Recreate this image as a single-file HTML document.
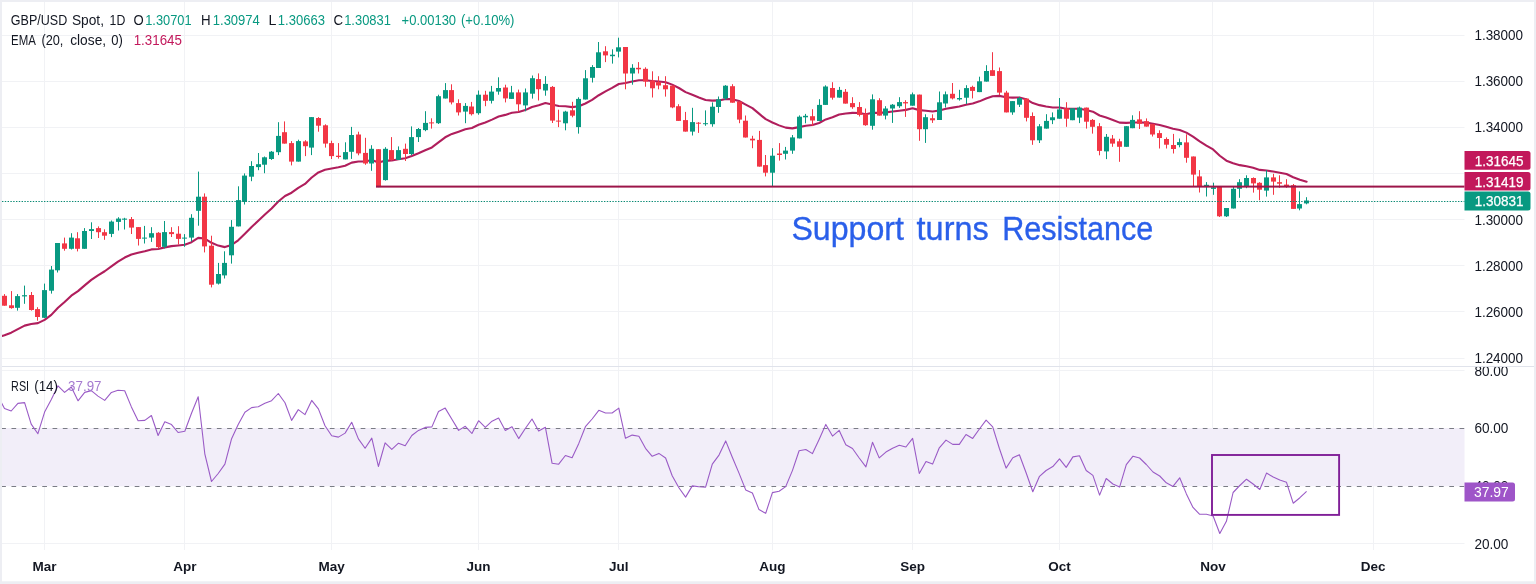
<!DOCTYPE html>
<html><head><meta charset="utf-8"><title>GBP/USD</title>
<style>
html,body{margin:0;padding:0;background:#fff;}
body{width:1536px;height:584px;overflow:hidden;}
svg{display:block;font-family:"Liberation Sans", sans-serif;will-change:transform;}
</style></head>
<body>
<svg width="1536" height="584" viewBox="0 0 1536 584">
<defs><clipPath id="rsiclip"><rect x="0" y="367" width="1536" height="217"/></clipPath></defs>
<rect width="1536" height="584" fill="#FFFFFF"/>
<rect x="44" y="2" width="1" height="364" fill="#F1F2F5"/>
<rect x="44" y="367" width="1" height="183" fill="#F1F2F5"/>
<rect x="184" y="2" width="1" height="364" fill="#F1F2F5"/>
<rect x="184" y="367" width="1" height="183" fill="#F1F2F5"/>
<rect x="331" y="2" width="1" height="364" fill="#F1F2F5"/>
<rect x="331" y="367" width="1" height="183" fill="#F1F2F5"/>
<rect x="478" y="2" width="1" height="364" fill="#F1F2F5"/>
<rect x="478" y="367" width="1" height="183" fill="#F1F2F5"/>
<rect x="618" y="2" width="1" height="364" fill="#F1F2F5"/>
<rect x="618" y="367" width="1" height="183" fill="#F1F2F5"/>
<rect x="772" y="2" width="1" height="364" fill="#F1F2F5"/>
<rect x="772" y="367" width="1" height="183" fill="#F1F2F5"/>
<rect x="912" y="2" width="1" height="364" fill="#F1F2F5"/>
<rect x="912" y="367" width="1" height="183" fill="#F1F2F5"/>
<rect x="1059" y="2" width="1" height="364" fill="#F1F2F5"/>
<rect x="1059" y="367" width="1" height="183" fill="#F1F2F5"/>
<rect x="1212" y="2" width="1" height="364" fill="#F1F2F5"/>
<rect x="1212" y="367" width="1" height="183" fill="#F1F2F5"/>
<rect x="1373" y="2" width="1" height="364" fill="#F1F2F5"/>
<rect x="1373" y="367" width="1" height="183" fill="#F1F2F5"/>
<rect x="2" y="35" width="1462.5" height="1" fill="#F1F2F5"/>
<rect x="2" y="81" width="1462.5" height="1" fill="#F1F2F5"/>
<rect x="2" y="127" width="1462.5" height="1" fill="#F1F2F5"/>
<rect x="2" y="173" width="1462.5" height="1" fill="#F1F2F5"/>
<rect x="2" y="219" width="1462.5" height="1" fill="#F1F2F5"/>
<rect x="2" y="265" width="1462.5" height="1" fill="#F1F2F5"/>
<rect x="2" y="311" width="1462.5" height="1" fill="#F1F2F5"/>
<rect x="2" y="358" width="1462.5" height="1" fill="#F1F2F5"/>
<rect x="2" y="370" width="1462.5" height="1" fill="#F1F2F5"/>
<rect x="2" y="543" width="1462.5" height="1" fill="#F1F2F5"/>
<rect x="2" y="428.0" width="1462.5" height="58.30000000000001" fill="#F2EEF9"/>
<line x1="1.2" y1="428.5" x2="1464.5" y2="428.5" stroke="#7A7C85" stroke-width="1" stroke-dasharray="4.7 5.57"/>
<line x1="1.2" y1="486.5" x2="1464.5" y2="486.5" stroke="#7A7C85" stroke-width="1" stroke-dasharray="4.7 5.57"/>
<polyline points="-2.1 337.30 4.5 335.29 11.2 332.66 17.9 329.11 24.6 325.64 31.2 324.00 37.9 323.09 44.6 319.87 51.3 314.89 58.0 307.82 64.6 301.98 71.3 295.72 78.0 291.15 84.7 285.39 91.3 279.92 98.0 275.28 104.7 271.24 111.4 266.37 118.0 261.69 124.7 257.56 131.4 254.44 138.1 252.75 144.8 251.21 151.4 249.39 158.1 249.05 164.8 247.39 171.5 246.15 178.1 245.47 184.8 244.69 191.5 242.20 198.2 237.85 204.8 238.55 211.5 242.78 218.2 245.60 224.9 247.12 231.6 244.90 238.2 240.28 244.9 233.73 251.6 226.98 258.3 220.81 264.9 214.51 271.6 208.44 278.3 201.49 285.0 196.00 291.6 192.70 298.3 187.83 305.0 183.91 311.7 177.51 318.4 172.42 325.0 169.75 331.7 168.43 338.4 167.25 345.1 165.78 351.7 162.61 358.4 161.52 365.1 161.47 371.8 160.09 378.4 162.47 385.1 160.83 391.8 160.42 398.5 159.23 405.2 158.18 411.8 155.94 418.5 153.18 425.2 150.21 431.9 147.41 438.5 142.43 445.2 137.30 451.9 133.88 458.6 131.68 465.3 129.32 471.9 128.01 478.6 124.81 485.3 122.48 492.0 119.59 498.6 116.53 505.3 114.88 512.0 112.72 518.7 111.99 525.3 110.10 532.0 106.93 538.7 105.20 545.4 103.05 552.1 104.52 558.7 105.98 565.4 106.24 572.1 107.09 578.8 106.24 585.4 103.47 592.1 99.91 598.8 95.22 605.5 91.35 612.1 87.84 618.8 84.00 625.5 83.05 632.2 81.49 638.9 80.21 645.5 80.26 652.2 81.01 658.9 81.48 665.6 82.23 672.2 84.63 678.9 88.02 685.6 92.10 692.3 94.83 698.9 97.48 705.6 99.93 712.3 100.59 719.0 100.42 725.7 98.97 732.3 99.16 739.0 101.05 745.7 104.57 752.4 108.09 759.0 113.64 765.7 119.17 772.4 122.44 779.1 125.37 785.7 127.62 792.4 128.39 799.1 127.10 805.8 125.75 812.5 125.02 819.1 122.99 825.8 119.42 832.5 117.33 839.2 114.57 845.8 113.50 852.5 112.92 859.2 113.06 865.9 114.21 872.5 112.73 879.2 112.88 885.9 112.40 892.6 111.55 899.3 110.68 905.9 109.86 912.6 108.25 919.3 110.13 926.0 110.69 932.6 111.49 939.3 110.54 946.0 108.82 952.7 107.64 959.3 106.56 966.0 104.73 972.7 103.46 979.4 101.34 986.1 98.44 992.7 96.28 999.4 95.90 1006.1 97.30 1012.8 97.58 1019.4 97.51 1026.1 99.28 1032.8 103.06 1039.5 105.14 1046.1 106.55 1052.8 107.48 1059.5 107.55 1066.2 108.74 1072.9 108.79 1079.5 108.74 1086.2 110.07 1092.9 111.66 1099.6 115.48 1106.2 117.56 1112.9 120.04 1119.6 122.63 1126.3 122.86 1133.0 122.46 1139.6 122.44 1146.3 122.64 1153.0 123.72 1159.7 124.99 1166.3 126.80 1173.0 128.82 1179.7 129.96 1186.4 132.63 1193.0 136.64 1199.7 141.33 1206.4 145.54 1213.1 149.43 1219.8 155.77 1226.4 160.70 1233.1 163.34 1239.8 165.15 1246.5 166.29 1253.1 167.81 1259.8 169.90 1266.5 170.55 1273.2 171.57 1279.8 172.69 1286.5 173.95 1293.2 177.24 1299.9 179.73 1306.6 181.66" fill="none" stroke="#B01E5C" stroke-width="2.1" stroke-linejoin="round" stroke-linecap="round"/>
<rect x="4" y="294.1" width="1" height="11.6" fill="#F23645"/>
<rect x="2" y="295.8" width="5" height="9.9" fill="#F23645"/>
<rect x="11" y="291.1" width="1" height="17.6" fill="#F23645"/>
<rect x="9" y="305.3" width="5" height="2.8" fill="#F23645"/>
<rect x="17" y="294.1" width="1" height="16.5" fill="#089981"/>
<rect x="15" y="296.1" width="5" height="11.7" fill="#089981"/>
<rect x="24" y="285.6" width="1" height="18.2" fill="#089981"/>
<rect x="22" y="295.2" width="5" height="1.2" fill="#089981"/>
<rect x="31" y="292.0" width="1" height="18.6" fill="#F23645"/>
<rect x="29" y="295.0" width="5" height="15.0" fill="#F23645"/>
<rect x="37" y="307.2" width="1" height="13.5" fill="#F23645"/>
<rect x="35" y="309.1" width="5" height="7.9" fill="#F23645"/>
<rect x="44" y="283.6" width="1" height="34.4" fill="#089981"/>
<rect x="42" y="290.1" width="5" height="27.7" fill="#089981"/>
<rect x="51" y="266.0" width="1" height="27.6" fill="#089981"/>
<rect x="49" y="269.6" width="5" height="21.1" fill="#089981"/>
<rect x="57" y="243.0" width="1" height="29.5" fill="#089981"/>
<rect x="55" y="243.0" width="5" height="27.3" fill="#089981"/>
<rect x="64" y="237.6" width="1" height="13.1" fill="#F23645"/>
<rect x="62" y="243.4" width="5" height="5.4" fill="#F23645"/>
<rect x="71" y="233.2" width="1" height="16.3" fill="#089981"/>
<rect x="69" y="237.6" width="5" height="11.2" fill="#089981"/>
<rect x="77" y="232.2" width="1" height="19.2" fill="#F23645"/>
<rect x="75" y="238.3" width="5" height="10.5" fill="#F23645"/>
<rect x="84" y="228.1" width="1" height="20.7" fill="#089981"/>
<rect x="82" y="231.0" width="5" height="17.8" fill="#089981"/>
<rect x="91" y="222.3" width="1" height="16.7" fill="#089981"/>
<rect x="89" y="229.1" width="5" height="1.9" fill="#089981"/>
<rect x="98" y="226.4" width="1" height="11.6" fill="#F23645"/>
<rect x="96" y="228.1" width="5" height="4.1" fill="#F23645"/>
<rect x="104" y="229.3" width="1" height="10.5" fill="#F23645"/>
<rect x="102" y="232.2" width="5" height="3.5" fill="#F23645"/>
<rect x="111" y="220.5" width="1" height="16.6" fill="#089981"/>
<rect x="109" y="221.6" width="5" height="12.3" fill="#089981"/>
<rect x="118" y="217.2" width="1" height="13.3" fill="#089981"/>
<rect x="116" y="218.6" width="5" height="3.3" fill="#089981"/>
<rect x="124" y="217.8" width="1" height="11.7" fill="#089981"/>
<rect x="122" y="218.6" width="5" height="1.1" fill="#089981"/>
<rect x="131" y="217.0" width="1" height="17.0" fill="#F23645"/>
<rect x="129" y="219.1" width="5" height="8.5" fill="#F23645"/>
<rect x="138" y="227.1" width="1" height="18.4" fill="#F23645"/>
<rect x="136" y="227.1" width="5" height="11.8" fill="#F23645"/>
<rect x="144" y="225.9" width="1" height="17.6" fill="#089981"/>
<rect x="142" y="237.6" width="5" height="1.0" fill="#089981"/>
<rect x="151" y="227.2" width="1" height="14.7" fill="#089981"/>
<rect x="149" y="233.2" width="5" height="4.4" fill="#089981"/>
<rect x="158" y="232.1" width="1" height="16.6" fill="#F23645"/>
<rect x="156" y="232.8" width="5" height="14.3" fill="#F23645"/>
<rect x="164" y="221.0" width="1" height="27.4" fill="#089981"/>
<rect x="162" y="232.1" width="5" height="14.7" fill="#089981"/>
<rect x="171" y="227.2" width="1" height="9.8" fill="#F23645"/>
<rect x="169" y="232.1" width="5" height="2.0" fill="#F23645"/>
<rect x="178" y="226.2" width="1" height="18.4" fill="#F23645"/>
<rect x="176" y="233.7" width="5" height="5.2" fill="#F23645"/>
<rect x="184" y="234.1" width="1" height="12.7" fill="#089981"/>
<rect x="182" y="237.6" width="5" height="1.0" fill="#089981"/>
<rect x="191" y="214.2" width="1" height="27.2" fill="#089981"/>
<rect x="189" y="217.8" width="5" height="19.8" fill="#089981"/>
<rect x="198" y="171.6" width="1" height="54.1" fill="#089981"/>
<rect x="196" y="196.7" width="5" height="14.1" fill="#089981"/>
<rect x="204" y="193.4" width="1" height="59.0" fill="#F23645"/>
<rect x="202" y="196.7" width="5" height="49.7" fill="#F23645"/>
<rect x="211" y="235.7" width="1" height="51.7" fill="#F23645"/>
<rect x="209" y="245.7" width="5" height="39.0" fill="#F23645"/>
<rect x="218" y="262.9" width="1" height="21.6" fill="#089981"/>
<rect x="216" y="274.0" width="5" height="9.6" fill="#089981"/>
<rect x="224" y="251.3" width="1" height="27.2" fill="#089981"/>
<rect x="222" y="262.9" width="5" height="12.5" fill="#089981"/>
<rect x="231" y="220.1" width="1" height="43.5" fill="#089981"/>
<rect x="229" y="226.8" width="5" height="28.5" fill="#089981"/>
<rect x="238" y="186.3" width="1" height="40.1" fill="#089981"/>
<rect x="236" y="200.1" width="5" height="26.3" fill="#089981"/>
<rect x="244" y="173.4" width="1" height="31.1" fill="#089981"/>
<rect x="242" y="175.6" width="5" height="26.3" fill="#089981"/>
<rect x="251" y="161.2" width="1" height="20.0" fill="#089981"/>
<rect x="249" y="166.0" width="5" height="10.7" fill="#089981"/>
<rect x="258" y="153.0" width="1" height="17.2" fill="#089981"/>
<rect x="256" y="164.2" width="5" height="2.9" fill="#089981"/>
<rect x="264" y="156.5" width="1" height="16.7" fill="#089981"/>
<rect x="262" y="157.3" width="5" height="7.4" fill="#089981"/>
<rect x="271" y="151.0" width="1" height="8.9" fill="#089981"/>
<rect x="269" y="151.7" width="5" height="7.3" fill="#089981"/>
<rect x="278" y="122.2" width="1" height="32.9" fill="#089981"/>
<rect x="276" y="135.9" width="5" height="16.3" fill="#089981"/>
<rect x="284" y="121.4" width="1" height="22.2" fill="#F23645"/>
<rect x="282" y="132.2" width="5" height="11.4" fill="#F23645"/>
<rect x="291" y="141.1" width="1" height="24.3" fill="#F23645"/>
<rect x="289" y="143.1" width="5" height="18.5" fill="#F23645"/>
<rect x="298" y="139.7" width="1" height="21.9" fill="#089981"/>
<rect x="296" y="141.1" width="5" height="20.5" fill="#089981"/>
<rect x="305" y="140.2" width="1" height="15.9" fill="#F23645"/>
<rect x="303" y="141.4" width="5" height="4.8" fill="#F23645"/>
<rect x="311" y="117.1" width="1" height="38.0" fill="#089981"/>
<rect x="309" y="117.1" width="5" height="30.5" fill="#089981"/>
<rect x="318" y="117.1" width="1" height="14.6" fill="#F23645"/>
<rect x="316" y="118.0" width="5" height="7.7" fill="#F23645"/>
<rect x="325" y="124.3" width="1" height="23.3" fill="#F23645"/>
<rect x="323" y="125.3" width="5" height="18.3" fill="#F23645"/>
<rect x="331" y="140.7" width="1" height="18.3" fill="#F23645"/>
<rect x="329" y="143.1" width="5" height="13.0" fill="#F23645"/>
<rect x="338" y="143.1" width="1" height="15.5" fill="#F23645"/>
<rect x="336" y="155.7" width="5" height="1.3" fill="#F23645"/>
<rect x="345" y="142.3" width="1" height="17.1" fill="#089981"/>
<rect x="343" y="152.1" width="5" height="7.3" fill="#089981"/>
<rect x="351" y="126.9" width="1" height="32.0" fill="#089981"/>
<rect x="349" y="135.0" width="5" height="16.8" fill="#089981"/>
<rect x="358" y="131.7" width="1" height="23.6" fill="#F23645"/>
<rect x="356" y="134.5" width="5" height="18.9" fill="#F23645"/>
<rect x="365" y="137.8" width="1" height="27.0" fill="#F23645"/>
<rect x="363" y="152.9" width="5" height="10.6" fill="#F23645"/>
<rect x="371" y="145.2" width="1" height="25.6" fill="#089981"/>
<rect x="369" y="148.8" width="5" height="14.7" fill="#089981"/>
<rect x="378" y="149.2" width="1" height="37.9" fill="#F23645"/>
<rect x="376" y="149.2" width="5" height="37.9" fill="#F23645"/>
<rect x="385" y="147.2" width="1" height="33.4" fill="#089981"/>
<rect x="383" y="148.8" width="5" height="31.3" fill="#089981"/>
<rect x="391" y="137.1" width="1" height="23.4" fill="#F23645"/>
<rect x="389" y="150.1" width="5" height="9.8" fill="#F23645"/>
<rect x="398" y="146.4" width="1" height="13.5" fill="#089981"/>
<rect x="396" y="150.1" width="5" height="9.8" fill="#089981"/>
<rect x="405" y="143.6" width="1" height="17.4" fill="#F23645"/>
<rect x="403" y="148.8" width="5" height="5.2" fill="#F23645"/>
<rect x="411" y="126.4" width="1" height="28.9" fill="#089981"/>
<rect x="409" y="137.1" width="5" height="16.9" fill="#089981"/>
<rect x="418" y="128.0" width="1" height="14.0" fill="#089981"/>
<rect x="416" y="129.0" width="5" height="8.1" fill="#089981"/>
<rect x="425" y="111.2" width="1" height="20.0" fill="#089981"/>
<rect x="423" y="122.9" width="5" height="7.2" fill="#089981"/>
<rect x="431" y="118.3" width="1" height="10.3" fill="#F23645"/>
<rect x="429" y="122.4" width="5" height="1.0" fill="#F23645"/>
<rect x="438" y="94.7" width="1" height="29.3" fill="#089981"/>
<rect x="436" y="96.2" width="5" height="27.0" fill="#089981"/>
<rect x="445" y="83.1" width="1" height="15.4" fill="#089981"/>
<rect x="443" y="90.1" width="5" height="8.4" fill="#089981"/>
<rect x="451" y="84.3" width="1" height="20.1" fill="#F23645"/>
<rect x="449" y="90.1" width="5" height="12.3" fill="#F23645"/>
<rect x="458" y="99.3" width="1" height="16.2" fill="#F23645"/>
<rect x="456" y="103.1" width="5" height="9.3" fill="#F23645"/>
<rect x="465" y="103.1" width="1" height="20.1" fill="#089981"/>
<rect x="463" y="105.9" width="5" height="5.7" fill="#089981"/>
<rect x="471" y="101.9" width="1" height="13.6" fill="#F23645"/>
<rect x="469" y="106.5" width="5" height="7.7" fill="#F23645"/>
<rect x="478" y="90.5" width="1" height="24.2" fill="#089981"/>
<rect x="476" y="94.7" width="5" height="18.5" fill="#089981"/>
<rect x="485" y="90.8" width="1" height="15.4" fill="#F23645"/>
<rect x="483" y="94.7" width="5" height="6.1" fill="#F23645"/>
<rect x="491" y="85.9" width="1" height="17.6" fill="#089981"/>
<rect x="489" y="91.6" width="5" height="9.2" fill="#089981"/>
<rect x="498" y="77.3" width="1" height="17.4" fill="#089981"/>
<rect x="496" y="88.0" width="5" height="3.6" fill="#089981"/>
<rect x="505" y="84.7" width="1" height="17.7" fill="#F23645"/>
<rect x="503" y="87.5" width="5" height="10.9" fill="#F23645"/>
<rect x="511" y="85.9" width="1" height="13.0" fill="#089981"/>
<rect x="509" y="92.4" width="5" height="6.5" fill="#089981"/>
<rect x="518" y="89.6" width="1" height="22.0" fill="#F23645"/>
<rect x="516" y="92.4" width="5" height="11.9" fill="#F23645"/>
<rect x="525" y="88.5" width="1" height="22.8" fill="#089981"/>
<rect x="523" y="92.4" width="5" height="13.0" fill="#089981"/>
<rect x="532" y="75.5" width="1" height="23.1" fill="#089981"/>
<rect x="530" y="78.2" width="5" height="15.5" fill="#089981"/>
<rect x="538" y="73.4" width="1" height="27.1" fill="#F23645"/>
<rect x="536" y="79.1" width="5" height="10.1" fill="#F23645"/>
<rect x="545" y="76.1" width="1" height="19.6" fill="#089981"/>
<rect x="543" y="83.9" width="5" height="6.6" fill="#089981"/>
<rect x="552" y="86.0" width="1" height="37.0" fill="#F23645"/>
<rect x="550" y="86.9" width="5" height="33.7" fill="#F23645"/>
<rect x="558" y="109.7" width="1" height="17.4" fill="#F23645"/>
<rect x="556" y="120.6" width="5" height="1.0" fill="#F23645"/>
<rect x="565" y="110.8" width="1" height="19.5" fill="#089981"/>
<rect x="563" y="111.6" width="5" height="11.7" fill="#089981"/>
<rect x="572" y="101.8" width="1" height="15.5" fill="#F23645"/>
<rect x="570" y="110.3" width="5" height="5.4" fill="#F23645"/>
<rect x="578" y="97.3" width="1" height="36.3" fill="#089981"/>
<rect x="576" y="98.9" width="5" height="28.2" fill="#089981"/>
<rect x="585" y="70.1" width="1" height="29.4" fill="#089981"/>
<rect x="583" y="78.3" width="5" height="21.2" fill="#089981"/>
<rect x="592" y="65.1" width="1" height="17.4" fill="#089981"/>
<rect x="590" y="67.0" width="5" height="10.8" fill="#089981"/>
<rect x="598" y="42.0" width="1" height="26.0" fill="#089981"/>
<rect x="596" y="52.3" width="5" height="15.7" fill="#089981"/>
<rect x="605" y="46.2" width="1" height="15.9" fill="#F23645"/>
<rect x="603" y="51.3" width="5" height="4.1" fill="#F23645"/>
<rect x="612" y="49.3" width="1" height="14.3" fill="#089981"/>
<rect x="610" y="54.7" width="5" height="1.5" fill="#089981"/>
<rect x="618" y="37.7" width="1" height="19.7" fill="#089981"/>
<rect x="616" y="47.3" width="5" height="4.3" fill="#089981"/>
<rect x="625" y="47.0" width="1" height="42.3" fill="#F23645"/>
<rect x="623" y="47.0" width="5" height="26.5" fill="#F23645"/>
<rect x="632" y="64.2" width="1" height="20.5" fill="#089981"/>
<rect x="630" y="67.8" width="5" height="5.7" fill="#089981"/>
<rect x="638" y="62.1" width="1" height="11.4" fill="#F23645"/>
<rect x="636" y="67.8" width="5" height="1.5" fill="#F23645"/>
<rect x="645" y="67.3" width="1" height="19.4" fill="#F23645"/>
<rect x="643" y="68.8" width="5" height="12.8" fill="#F23645"/>
<rect x="652" y="71.3" width="1" height="26.2" fill="#F23645"/>
<rect x="650" y="80.5" width="5" height="7.8" fill="#F23645"/>
<rect x="658" y="76.2" width="1" height="13.1" fill="#F23645"/>
<rect x="656" y="82.1" width="5" height="3.4" fill="#F23645"/>
<rect x="665" y="76.2" width="1" height="20.4" fill="#F23645"/>
<rect x="663" y="85.2" width="5" height="4.1" fill="#F23645"/>
<rect x="672" y="85.6" width="1" height="22.6" fill="#F23645"/>
<rect x="670" y="85.6" width="5" height="21.8" fill="#F23645"/>
<rect x="678" y="104.2" width="1" height="16.7" fill="#F23645"/>
<rect x="676" y="106.2" width="5" height="14.7" fill="#F23645"/>
<rect x="685" y="111.9" width="1" height="19.7" fill="#F23645"/>
<rect x="683" y="120.1" width="5" height="11.5" fill="#F23645"/>
<rect x="692" y="107.8" width="1" height="27.7" fill="#089981"/>
<rect x="690" y="122.1" width="5" height="9.5" fill="#089981"/>
<rect x="698" y="122.1" width="1" height="10.8" fill="#F23645"/>
<rect x="696" y="122.7" width="5" height="1.0" fill="#F23645"/>
<rect x="705" y="110.4" width="1" height="15.4" fill="#089981"/>
<rect x="703" y="123.2" width="5" height="1.0" fill="#089981"/>
<rect x="712" y="102.4" width="1" height="24.3" fill="#089981"/>
<rect x="710" y="106.7" width="5" height="17.5" fill="#089981"/>
<rect x="718" y="96.5" width="1" height="16.3" fill="#089981"/>
<rect x="716" y="99.3" width="5" height="7.7" fill="#089981"/>
<rect x="725" y="85.1" width="1" height="14.9" fill="#089981"/>
<rect x="723" y="85.7" width="5" height="12.8" fill="#089981"/>
<rect x="732" y="84.2" width="1" height="18.5" fill="#F23645"/>
<rect x="730" y="86.2" width="5" height="16.5" fill="#F23645"/>
<rect x="739" y="101.6" width="1" height="21.6" fill="#F23645"/>
<rect x="737" y="101.6" width="5" height="18.0" fill="#F23645"/>
<rect x="745" y="115.5" width="1" height="22.0" fill="#F23645"/>
<rect x="743" y="120.7" width="5" height="16.8" fill="#F23645"/>
<rect x="752" y="135.8" width="1" height="12.4" fill="#F23645"/>
<rect x="750" y="138.7" width="5" height="1.7" fill="#F23645"/>
<rect x="759" y="130.9" width="1" height="35.7" fill="#F23645"/>
<rect x="757" y="139.9" width="5" height="26.7" fill="#F23645"/>
<rect x="765" y="155.0" width="1" height="21.4" fill="#F23645"/>
<rect x="763" y="165.1" width="5" height="7.6" fill="#F23645"/>
<rect x="772" y="148.2" width="1" height="38.8" fill="#089981"/>
<rect x="770" y="155.7" width="5" height="17.0" fill="#089981"/>
<rect x="779" y="143.1" width="1" height="17.5" fill="#F23645"/>
<rect x="777" y="153.5" width="5" height="1.5" fill="#F23645"/>
<rect x="785" y="146.9" width="1" height="12.6" fill="#089981"/>
<rect x="783" y="150.6" width="5" height="3.2" fill="#089981"/>
<rect x="792" y="135.0" width="1" height="18.8" fill="#089981"/>
<rect x="790" y="137.4" width="5" height="13.2" fill="#089981"/>
<rect x="799" y="115.4" width="1" height="23.0" fill="#089981"/>
<rect x="797" y="116.7" width="5" height="21.7" fill="#089981"/>
<rect x="805" y="113.9" width="1" height="9.4" fill="#089981"/>
<rect x="803" y="115.8" width="5" height="1.5" fill="#089981"/>
<rect x="812" y="109.2" width="1" height="16.9" fill="#F23645"/>
<rect x="810" y="116.2" width="5" height="4.3" fill="#F23645"/>
<rect x="819" y="99.2" width="1" height="21.8" fill="#089981"/>
<rect x="817" y="104.9" width="5" height="16.1" fill="#089981"/>
<rect x="825" y="85.3" width="1" height="19.6" fill="#089981"/>
<rect x="823" y="86.5" width="5" height="18.4" fill="#089981"/>
<rect x="832" y="82.2" width="1" height="17.4" fill="#F23645"/>
<rect x="830" y="88.0" width="5" height="9.7" fill="#F23645"/>
<rect x="839" y="86.9" width="1" height="10.7" fill="#089981"/>
<rect x="837" y="89.9" width="5" height="7.7" fill="#089981"/>
<rect x="845" y="89.0" width="1" height="14.6" fill="#F23645"/>
<rect x="843" y="91.8" width="5" height="11.8" fill="#F23645"/>
<rect x="852" y="97.2" width="1" height="11.6" fill="#F23645"/>
<rect x="850" y="103.1" width="5" height="4.1" fill="#F23645"/>
<rect x="859" y="102.1" width="1" height="14.4" fill="#F23645"/>
<rect x="857" y="107.0" width="5" height="7.9" fill="#F23645"/>
<rect x="865" y="108.5" width="1" height="17.3" fill="#F23645"/>
<rect x="863" y="113.7" width="5" height="11.5" fill="#F23645"/>
<rect x="872" y="94.4" width="1" height="35.3" fill="#089981"/>
<rect x="870" y="99.3" width="5" height="26.5" fill="#089981"/>
<rect x="879" y="98.2" width="1" height="17.4" fill="#F23645"/>
<rect x="877" y="100.2" width="5" height="15.4" fill="#F23645"/>
<rect x="885" y="106.2" width="1" height="13.2" fill="#089981"/>
<rect x="883" y="108.5" width="5" height="7.1" fill="#089981"/>
<rect x="892" y="104.0" width="1" height="18.9" fill="#089981"/>
<rect x="890" y="104.7" width="5" height="3.8" fill="#089981"/>
<rect x="899" y="97.2" width="1" height="10.7" fill="#089981"/>
<rect x="897" y="102.1" width="5" height="4.1" fill="#089981"/>
<rect x="905" y="100.2" width="1" height="16.7" fill="#F23645"/>
<rect x="903" y="102.1" width="5" height="1.3" fill="#F23645"/>
<rect x="912" y="92.5" width="1" height="13.2" fill="#089981"/>
<rect x="910" y="94.3" width="5" height="11.4" fill="#089981"/>
<rect x="919" y="94.6" width="1" height="46.2" fill="#F23645"/>
<rect x="917" y="94.6" width="5" height="34.6" fill="#F23645"/>
<rect x="925" y="114.3" width="1" height="28.6" fill="#089981"/>
<rect x="923" y="117.2" width="5" height="12.0" fill="#089981"/>
<rect x="932" y="114.3" width="1" height="8.6" fill="#F23645"/>
<rect x="930" y="118.2" width="5" height="2.1" fill="#F23645"/>
<rect x="939" y="91.5" width="1" height="28.5" fill="#089981"/>
<rect x="937" y="102.3" width="5" height="17.7" fill="#089981"/>
<rect x="945" y="91.5" width="1" height="16.0" fill="#089981"/>
<rect x="943" y="94.3" width="5" height="9.2" fill="#089981"/>
<rect x="952" y="83.0" width="1" height="16.4" fill="#F23645"/>
<rect x="950" y="93.8" width="5" height="4.6" fill="#F23645"/>
<rect x="959" y="89.8" width="1" height="10.8" fill="#089981"/>
<rect x="957" y="98.0" width="5" height="1.4" fill="#089981"/>
<rect x="966" y="85.2" width="1" height="18.8" fill="#089981"/>
<rect x="964" y="88.1" width="5" height="9.6" fill="#089981"/>
<rect x="972" y="85.7" width="1" height="12.7" fill="#F23645"/>
<rect x="970" y="86.9" width="5" height="4.0" fill="#F23645"/>
<rect x="979" y="76.7" width="1" height="15.4" fill="#089981"/>
<rect x="977" y="81.3" width="5" height="10.8" fill="#089981"/>
<rect x="986" y="65.2" width="1" height="16.4" fill="#089981"/>
<rect x="984" y="71.0" width="5" height="10.6" fill="#089981"/>
<rect x="992" y="52.2" width="1" height="23.7" fill="#F23645"/>
<rect x="990" y="70.2" width="5" height="5.7" fill="#F23645"/>
<rect x="999" y="67.5" width="1" height="27.5" fill="#F23645"/>
<rect x="997" y="71.1" width="5" height="21.5" fill="#F23645"/>
<rect x="1006" y="90.8" width="1" height="21.6" fill="#F23645"/>
<rect x="1004" y="92.6" width="5" height="19.8" fill="#F23645"/>
<rect x="1012" y="101.1" width="1" height="13.7" fill="#089981"/>
<rect x="1010" y="101.1" width="5" height="11.3" fill="#089981"/>
<rect x="1019" y="96.8" width="1" height="10.2" fill="#089981"/>
<rect x="1017" y="98.0" width="5" height="6.7" fill="#089981"/>
<rect x="1026" y="98.6" width="1" height="22.8" fill="#F23645"/>
<rect x="1024" y="98.6" width="5" height="19.2" fill="#F23645"/>
<rect x="1032" y="112.4" width="1" height="32.4" fill="#F23645"/>
<rect x="1030" y="116.0" width="5" height="24.3" fill="#F23645"/>
<rect x="1039" y="124.1" width="1" height="18.9" fill="#089981"/>
<rect x="1037" y="126.3" width="5" height="14.0" fill="#089981"/>
<rect x="1046" y="114.2" width="1" height="14.4" fill="#089981"/>
<rect x="1044" y="120.9" width="5" height="7.7" fill="#089981"/>
<rect x="1052" y="112.4" width="1" height="11.7" fill="#089981"/>
<rect x="1050" y="117.3" width="5" height="2.9" fill="#089981"/>
<rect x="1059" y="98.0" width="1" height="20.7" fill="#089981"/>
<rect x="1057" y="109.4" width="5" height="9.3" fill="#089981"/>
<rect x="1066" y="102.2" width="1" height="24.6" fill="#F23645"/>
<rect x="1064" y="108.3" width="5" height="10.4" fill="#F23645"/>
<rect x="1072" y="108.3" width="1" height="11.9" fill="#089981"/>
<rect x="1070" y="108.3" width="5" height="11.9" fill="#089981"/>
<rect x="1079" y="106.6" width="1" height="16.5" fill="#089981"/>
<rect x="1077" y="107.6" width="5" height="10.0" fill="#089981"/>
<rect x="1086" y="107.6" width="1" height="21.0" fill="#F23645"/>
<rect x="1084" y="107.6" width="5" height="14.1" fill="#F23645"/>
<rect x="1092" y="119.0" width="1" height="14.6" fill="#F23645"/>
<rect x="1090" y="119.9" width="5" height="6.9" fill="#F23645"/>
<rect x="1099" y="123.1" width="1" height="32.2" fill="#F23645"/>
<rect x="1097" y="126.2" width="5" height="24.7" fill="#F23645"/>
<rect x="1106" y="134.0" width="1" height="25.1" fill="#089981"/>
<rect x="1104" y="136.8" width="5" height="14.6" fill="#089981"/>
<rect x="1112" y="135.0" width="1" height="11.8" fill="#F23645"/>
<rect x="1110" y="138.6" width="5" height="5.0" fill="#F23645"/>
<rect x="1119" y="138.8" width="1" height="23.0" fill="#F23645"/>
<rect x="1117" y="141.3" width="5" height="5.5" fill="#F23645"/>
<rect x="1126" y="126.2" width="1" height="20.6" fill="#089981"/>
<rect x="1124" y="126.2" width="5" height="20.6" fill="#089981"/>
<rect x="1132" y="115.3" width="1" height="12.9" fill="#089981"/>
<rect x="1130" y="119.9" width="5" height="8.3" fill="#089981"/>
<rect x="1139" y="111.2" width="1" height="17.8" fill="#F23645"/>
<rect x="1137" y="119.4" width="5" height="4.4" fill="#F23645"/>
<rect x="1146" y="118.4" width="1" height="8.2" fill="#F23645"/>
<rect x="1144" y="121.2" width="5" height="5.4" fill="#F23645"/>
<rect x="1152" y="124.1" width="1" height="12.4" fill="#F23645"/>
<rect x="1150" y="124.1" width="5" height="10.4" fill="#F23645"/>
<rect x="1159" y="130.3" width="1" height="18.2" fill="#F23645"/>
<rect x="1157" y="133.1" width="5" height="4.9" fill="#F23645"/>
<rect x="1166" y="137.4" width="1" height="11.1" fill="#F23645"/>
<rect x="1164" y="139.0" width="5" height="5.7" fill="#F23645"/>
<rect x="1173" y="133.9" width="1" height="19.6" fill="#F23645"/>
<rect x="1171" y="145.0" width="5" height="4.0" fill="#F23645"/>
<rect x="1179" y="138.5" width="1" height="8.8" fill="#089981"/>
<rect x="1177" y="142.1" width="5" height="3.0" fill="#089981"/>
<rect x="1186" y="134.3" width="1" height="28.4" fill="#F23645"/>
<rect x="1184" y="142.4" width="5" height="15.4" fill="#F23645"/>
<rect x="1193" y="156.5" width="1" height="29.7" fill="#F23645"/>
<rect x="1191" y="156.5" width="5" height="18.1" fill="#F23645"/>
<rect x="1199" y="170.1" width="1" height="22.4" fill="#F23645"/>
<rect x="1197" y="176.4" width="5" height="9.6" fill="#F23645"/>
<rect x="1206" y="182.1" width="1" height="14.4" fill="#089981"/>
<rect x="1204" y="184.8" width="5" height="1.2" fill="#089981"/>
<rect x="1213" y="182.7" width="1" height="12.1" fill="#089981"/>
<rect x="1211" y="187.3" width="5" height="1.6" fill="#089981"/>
<rect x="1219" y="187.0" width="1" height="30.0" fill="#F23645"/>
<rect x="1217" y="187.0" width="5" height="29.3" fill="#F23645"/>
<rect x="1226" y="208.0" width="1" height="9.0" fill="#089981"/>
<rect x="1224" y="208.0" width="5" height="8.3" fill="#089981"/>
<rect x="1233" y="187.0" width="1" height="21.5" fill="#089981"/>
<rect x="1231" y="188.8" width="5" height="19.7" fill="#089981"/>
<rect x="1239" y="179.2" width="1" height="18.6" fill="#089981"/>
<rect x="1237" y="182.2" width="5" height="6.6" fill="#089981"/>
<rect x="1246" y="175.3" width="1" height="12.9" fill="#089981"/>
<rect x="1244" y="178.0" width="5" height="9.0" fill="#089981"/>
<rect x="1253" y="177.4" width="1" height="15.2" fill="#F23645"/>
<rect x="1251" y="178.0" width="5" height="5.4" fill="#F23645"/>
<rect x="1259" y="182.2" width="1" height="18.0" fill="#F23645"/>
<rect x="1257" y="182.8" width="5" height="6.9" fill="#F23645"/>
<rect x="1266" y="170.2" width="1" height="26.4" fill="#089981"/>
<rect x="1264" y="177.4" width="5" height="13.2" fill="#089981"/>
<rect x="1273" y="173.8" width="1" height="21.0" fill="#F23645"/>
<rect x="1271" y="177.4" width="5" height="4.2" fill="#F23645"/>
<rect x="1279" y="175.3" width="1" height="12.5" fill="#F23645"/>
<rect x="1277" y="182.2" width="5" height="1.5" fill="#F23645"/>
<rect x="1286" y="179.2" width="1" height="8.6" fill="#F23645"/>
<rect x="1284" y="184.6" width="5" height="2.0" fill="#F23645"/>
<rect x="1293" y="184.0" width="1" height="24.9" fill="#F23645"/>
<rect x="1291" y="185.2" width="5" height="23.7" fill="#F23645"/>
<rect x="1299" y="191.4" width="1" height="18.9" fill="#089981"/>
<rect x="1297" y="204.1" width="5" height="4.4" fill="#089981"/>
<rect x="1306" y="197.2" width="1" height="7.1" fill="#089981"/>
<rect x="1304" y="200.5" width="5" height="2.9" fill="#089981"/>
<line x1="2" y1="201.5" x2="1464.5" y2="201.5" stroke="#0A8A74" stroke-width="1" stroke-dasharray="1.4 1.4"/>
<rect x="376" y="185.6" width="1088.5" height="2" fill="#9C1549"/>
<polyline points="-2.1 396.0 4.5 408.6 11.2 411.0 17.9 403.4 24.6 402.6 31.2 424.1 37.9 433.7 44.6 412.1 51.3 399.5 58.0 385.8 64.6 392.4 71.3 387.0 78.0 400.8 84.7 392.4 91.3 390.6 98.0 396.1 104.7 400.4 111.4 392.4 118.0 390.3 124.7 390.8 131.4 406.9 138.1 420.8 144.8 420.4 151.4 415.5 158.1 435.5 164.8 421.7 171.5 424.6 178.1 432.5 184.8 431.2 191.5 413.3 198.2 396.7 204.8 453.8 211.5 481.5 218.2 473.5 224.9 464.1 231.6 438.7 238.2 424.6 244.9 412.3 251.6 407.6 258.3 406.7 264.9 403.3 271.6 400.7 278.3 393.5 285.0 402.7 291.6 420.4 298.3 409.6 305.0 414.6 311.7 400.4 318.4 408.9 325.0 425.8 331.7 435.8 338.4 437.1 345.1 433.1 351.7 422.3 358.4 438.9 365.1 448.2 371.8 438.1 378.4 466.5 385.1 442.8 391.8 449.4 398.5 443.2 405.2 445.8 411.8 435.5 418.5 430.4 425.2 427.4 431.9 426.9 438.5 411.5 445.2 408.1 451.9 419.2 458.6 430.4 465.3 426.3 471.9 433.5 478.6 420.7 485.3 427.4 492.0 421.2 498.6 418.1 505.3 430.4 512.0 426.7 518.7 438.6 525.3 428.5 532.0 419.0 538.7 431.1 545.4 427.3 552.1 463.3 558.7 464.2 565.4 455.5 572.1 457.8 578.8 443.4 585.4 426.7 592.1 419.0 598.8 410.3 605.5 413.0 612.1 413.0 618.8 408.1 625.5 438.3 632.2 435.1 638.9 436.3 645.5 448.3 652.2 456.3 658.9 453.4 665.6 458.0 672.2 475.7 678.9 487.7 685.6 497.1 692.3 485.9 698.9 486.8 705.6 487.1 712.3 464.2 719.0 455.1 725.7 440.9 732.3 457.3 739.0 473.1 745.7 489.9 752.4 493.0 759.0 509.6 765.7 513.3 772.4 492.6 779.1 491.3 785.7 486.6 792.4 470.6 799.1 450.8 805.8 449.5 812.5 453.6 819.1 439.5 825.8 424.4 832.5 436.1 839.2 430.4 845.8 444.8 852.5 448.5 859.2 458.0 865.9 466.8 872.5 442.3 879.2 457.9 885.9 452.1 892.6 448.2 899.3 445.3 905.9 447.0 912.6 438.4 919.3 473.5 926.0 461.5 932.6 464.1 939.3 447.8 946.0 440.1 952.7 444.4 959.3 444.4 966.0 434.5 972.7 438.4 979.4 429.0 986.1 420.1 992.7 426.9 999.4 448.5 1006.1 468.1 1012.8 457.8 1019.4 454.7 1026.1 472.8 1032.8 491.7 1039.5 476.3 1046.1 470.5 1052.8 466.6 1059.5 458.9 1066.2 467.4 1072.9 456.9 1079.5 455.8 1086.2 470.5 1092.9 475.4 1099.6 495.1 1106.2 478.5 1112.9 484.0 1119.6 487.1 1126.3 464.6 1133.0 456.2 1139.6 458.0 1146.3 464.5 1153.0 472.0 1159.7 476.0 1166.3 482.8 1173.0 486.4 1179.7 477.8 1186.4 493.9 1193.0 507.4 1199.7 514.3 1206.4 514.3 1213.1 516.0 1219.8 533.5 1226.4 521.3 1233.1 492.5 1239.8 485.5 1246.5 479.2 1253.1 484.0 1259.8 489.5 1266.5 473.1 1273.2 477.0 1279.8 480.0 1286.5 482.3 1293.2 503.2 1299.9 497.7 1306.6 491.3" fill="none" stroke="#9A5BC6" stroke-width="1.1" stroke-linejoin="round"/>
<rect x="1212.0" y="455.0" width="127.1" height="59.9" fill="none" stroke="#801F98" stroke-width="1.9"/>
<text x="10.8" y="24.6" font-size="14.8" fill="#131722" font-weight="normal" text-anchor="start" textLength="56.4" lengthAdjust="spacingAndGlyphs">GBP/USD</text>
<text x="71.9" y="24.6" font-size="14.8" fill="#131722" font-weight="normal" text-anchor="start" textLength="32.1" lengthAdjust="spacingAndGlyphs">Spot,</text>
<text x="109.6" y="24.6" font-size="14.8" fill="#131722" font-weight="normal" text-anchor="start" textLength="15.7" lengthAdjust="spacingAndGlyphs">1D</text>
<text x="133.4" y="24.6" font-size="14.8" fill="#131722" font-weight="normal" text-anchor="start" textLength="10.2" lengthAdjust="spacingAndGlyphs">O</text>
<text x="145.2" y="24.6" font-size="14.8" fill="#089981" font-weight="normal" text-anchor="start" textLength="46.4" lengthAdjust="spacingAndGlyphs">1.30701</text>
<text x="200.9" y="24.6" font-size="14.8" fill="#131722" font-weight="normal" text-anchor="start" textLength="9.6" lengthAdjust="spacingAndGlyphs">H</text>
<text x="212.8" y="24.6" font-size="14.8" fill="#089981" font-weight="normal" text-anchor="start" textLength="47.0" lengthAdjust="spacingAndGlyphs">1.30974</text>
<text x="268.5" y="24.6" font-size="14.8" fill="#131722" font-weight="normal" text-anchor="start" textLength="7.9" lengthAdjust="spacingAndGlyphs">L</text>
<text x="277.8" y="24.6" font-size="14.8" fill="#089981" font-weight="normal" text-anchor="start" textLength="47.1" lengthAdjust="spacingAndGlyphs">1.30663</text>
<text x="333.6" y="24.6" font-size="14.8" fill="#131722" font-weight="normal" text-anchor="start" textLength="9.6" lengthAdjust="spacingAndGlyphs">C</text>
<text x="344.2" y="24.6" font-size="14.8" fill="#089981" font-weight="normal" text-anchor="start" textLength="46.7" lengthAdjust="spacingAndGlyphs">1.30831</text>
<text x="401.6" y="24.6" font-size="14.8" fill="#089981" font-weight="normal" text-anchor="start" textLength="54.5" lengthAdjust="spacingAndGlyphs">+0.00130</text>
<text x="461.0" y="24.6" font-size="14.8" fill="#089981" font-weight="normal" text-anchor="start" textLength="53.4" lengthAdjust="spacingAndGlyphs">(+0.10%)</text>
<text x="11.1" y="44.5" font-size="14.8" fill="#131722" font-weight="normal" text-anchor="start" textLength="24.8" lengthAdjust="spacingAndGlyphs">EMA</text>
<text x="41.4" y="44.5" font-size="14.8" fill="#131722" font-weight="normal" text-anchor="start" textLength="22.0" lengthAdjust="spacingAndGlyphs">(20,</text>
<text x="70.2" y="44.5" font-size="14.8" fill="#131722" font-weight="normal" text-anchor="start" textLength="35.9" lengthAdjust="spacingAndGlyphs">close,</text>
<text x="111.2" y="44.5" font-size="14.8" fill="#131722" font-weight="normal" text-anchor="start" textLength="11.6" lengthAdjust="spacingAndGlyphs">0)</text>
<text x="133.7" y="44.5" font-size="14.8" fill="#C2185B" font-weight="normal" text-anchor="start" textLength="48.3" lengthAdjust="spacingAndGlyphs">1.31645</text>
<text x="11.1" y="390.7" font-size="14.8" fill="#131722" font-weight="normal" text-anchor="start" textLength="18.0" lengthAdjust="spacingAndGlyphs">RSI</text>
<text x="34.2" y="390.7" font-size="14.8" fill="#131722" font-weight="normal" text-anchor="start" textLength="23.8" lengthAdjust="spacingAndGlyphs">(14)</text>
<text x="68.1" y="390.7" font-size="14.8" fill="#A57BD0" font-weight="normal" text-anchor="start" textLength="33.4" lengthAdjust="spacingAndGlyphs">37.97</text>
<text x="1474.4" y="40.0" font-size="13.8" fill="#131722" font-weight="normal" text-anchor="start" textLength="48.7" lengthAdjust="spacingAndGlyphs">1.38000</text>
<text x="1474.4" y="86.2" font-size="13.8" fill="#131722" font-weight="normal" text-anchor="start" textLength="48.7" lengthAdjust="spacingAndGlyphs">1.36000</text>
<text x="1474.4" y="132.3" font-size="13.8" fill="#131722" font-weight="normal" text-anchor="start" textLength="48.7" lengthAdjust="spacingAndGlyphs">1.34000</text>
<text x="1474.4" y="224.6" font-size="13.8" fill="#131722" font-weight="normal" text-anchor="start" textLength="48.7" lengthAdjust="spacingAndGlyphs">1.30000</text>
<text x="1474.4" y="270.7" font-size="13.8" fill="#131722" font-weight="normal" text-anchor="start" textLength="48.7" lengthAdjust="spacingAndGlyphs">1.28000</text>
<text x="1474.4" y="316.9" font-size="13.8" fill="#131722" font-weight="normal" text-anchor="start" textLength="48.7" lengthAdjust="spacingAndGlyphs">1.26000</text>
<text x="1474.4" y="363.0" font-size="13.8" fill="#131722" font-weight="normal" text-anchor="start" textLength="48.7" lengthAdjust="spacingAndGlyphs">1.24000</text>
<g clip-path="url(#rsiclip)">
<text x="1474.4" y="375.9" font-size="13.8" fill="#131722" font-weight="normal" text-anchor="start" textLength="34.0" lengthAdjust="spacingAndGlyphs">80.00</text>
<text x="1474.4" y="433.4" font-size="13.8" fill="#131722" font-weight="normal" text-anchor="start" textLength="34.0" lengthAdjust="spacingAndGlyphs">60.00</text>
<text x="1474.4" y="490.90000000000003" font-size="13.8" fill="#131722" font-weight="normal" text-anchor="start" textLength="34.0" lengthAdjust="spacingAndGlyphs">40.00</text>
<text x="1474.4" y="548.6" font-size="13.8" fill="#131722" font-weight="normal" text-anchor="start" textLength="34.0" lengthAdjust="spacingAndGlyphs">20.00</text>
</g>
<path d="M1464.5 151.0 H1528 Q1530.5 151.0 1530.5 153.5 V167.3 Q1530.5 169.8 1528 169.8 H1464.5 Z" fill="#C2185B"/>
<text x="1474.8" y="165.6" font-size="14.3" fill="#FFFFFF" font-weight="normal" text-anchor="start" textLength="48.7" lengthAdjust="spacingAndGlyphs" stroke="#FFFFFF" stroke-width="0.25">1.31645</text>
<path d="M1464.5 172.0 H1528 Q1530.5 172.0 1530.5 174.5 V188.1 Q1530.5 190.6 1528 190.6 H1464.5 Z" fill="#C2185B"/>
<text x="1474.8" y="186.5" font-size="14.3" fill="#FFFFFF" font-weight="normal" text-anchor="start" textLength="48.7" lengthAdjust="spacingAndGlyphs" stroke="#FFFFFF" stroke-width="0.25">1.31419</text>
<path d="M1464.5 191.6 H1528 Q1530.5 191.6 1530.5 194.1 V207.9 Q1530.5 210.4 1528 210.4 H1464.5 Z" fill="#089981"/>
<text x="1474.8" y="206.2" font-size="14.3" fill="#FFFFFF" font-weight="normal" text-anchor="start" textLength="48.7" lengthAdjust="spacingAndGlyphs" stroke="#FFFFFF" stroke-width="0.25">1.30831</text>
<path d="M1464.5 482.5 H1512.5 Q1515 482.5 1515 485 V499 Q1515 501.5 1512.5 501.5 H1464.5 Z" fill="#9E55C8"/>
<text x="1474.0" y="497.2" font-size="14.3" fill="#FFFFFF" font-weight="normal" text-anchor="start" textLength="34.8" lengthAdjust="spacingAndGlyphs">37.97</text>
<text x="44.6" y="571.3" font-size="13.5" fill="#131722" font-weight="bold" text-anchor="middle">Mar</text>
<text x="184.81699999999998" y="571.3" font-size="13.5" fill="#131722" font-weight="bold" text-anchor="middle">Apr</text>
<text x="331.711" y="571.3" font-size="13.5" fill="#131722" font-weight="bold" text-anchor="middle">May</text>
<text x="478.605" y="571.3" font-size="13.5" fill="#131722" font-weight="bold" text-anchor="middle">Jun</text>
<text x="618.822" y="571.3" font-size="13.5" fill="#131722" font-weight="bold" text-anchor="middle">Jul</text>
<text x="772.393" y="571.3" font-size="13.5" fill="#131722" font-weight="bold" text-anchor="middle">Aug</text>
<text x="912.61" y="571.3" font-size="13.5" fill="#131722" font-weight="bold" text-anchor="middle">Sep</text>
<text x="1059.504" y="571.3" font-size="13.5" fill="#131722" font-weight="bold" text-anchor="middle">Oct</text>
<text x="1213.0749999999998" y="571.3" font-size="13.5" fill="#131722" font-weight="bold" text-anchor="middle">Nov</text>
<text x="1373.1" y="571.3" font-size="13.5" fill="#131722" font-weight="bold" text-anchor="middle">Dec</text>
<text x="791.4" y="239.9" font-size="33" fill="#2A5FEA" font-weight="normal" text-anchor="start" textLength="112.5" lengthAdjust="spacingAndGlyphs" stroke="#2A5FEA" stroke-width="0.35">Support</text>
<text x="916.6" y="239.9" font-size="33" fill="#2A5FEA" font-weight="normal" text-anchor="start" textLength="72.1" lengthAdjust="spacingAndGlyphs" stroke="#2A5FEA" stroke-width="0.35">turns</text>
<text x="1002.2" y="239.9" font-size="33" fill="#2A5FEA" font-weight="normal" text-anchor="start" textLength="151.1" lengthAdjust="spacingAndGlyphs" stroke="#2A5FEA" stroke-width="0.35">Resistance</text>
<rect x="0" y="366" width="1536" height="1" fill="#E0E3EB"/>
<rect x="0" y="0" width="1536" height="2" fill="#EDEEF3"/>
<rect x="0" y="0" width="2" height="584" fill="#EDEEF3"/>
<rect x="1534" y="0" width="2" height="584" fill="#EDEEF3"/>
<rect x="0" y="581.3" width="1536" height="2.7" fill="#EDEEF3"/>
</svg>
</body></html>
